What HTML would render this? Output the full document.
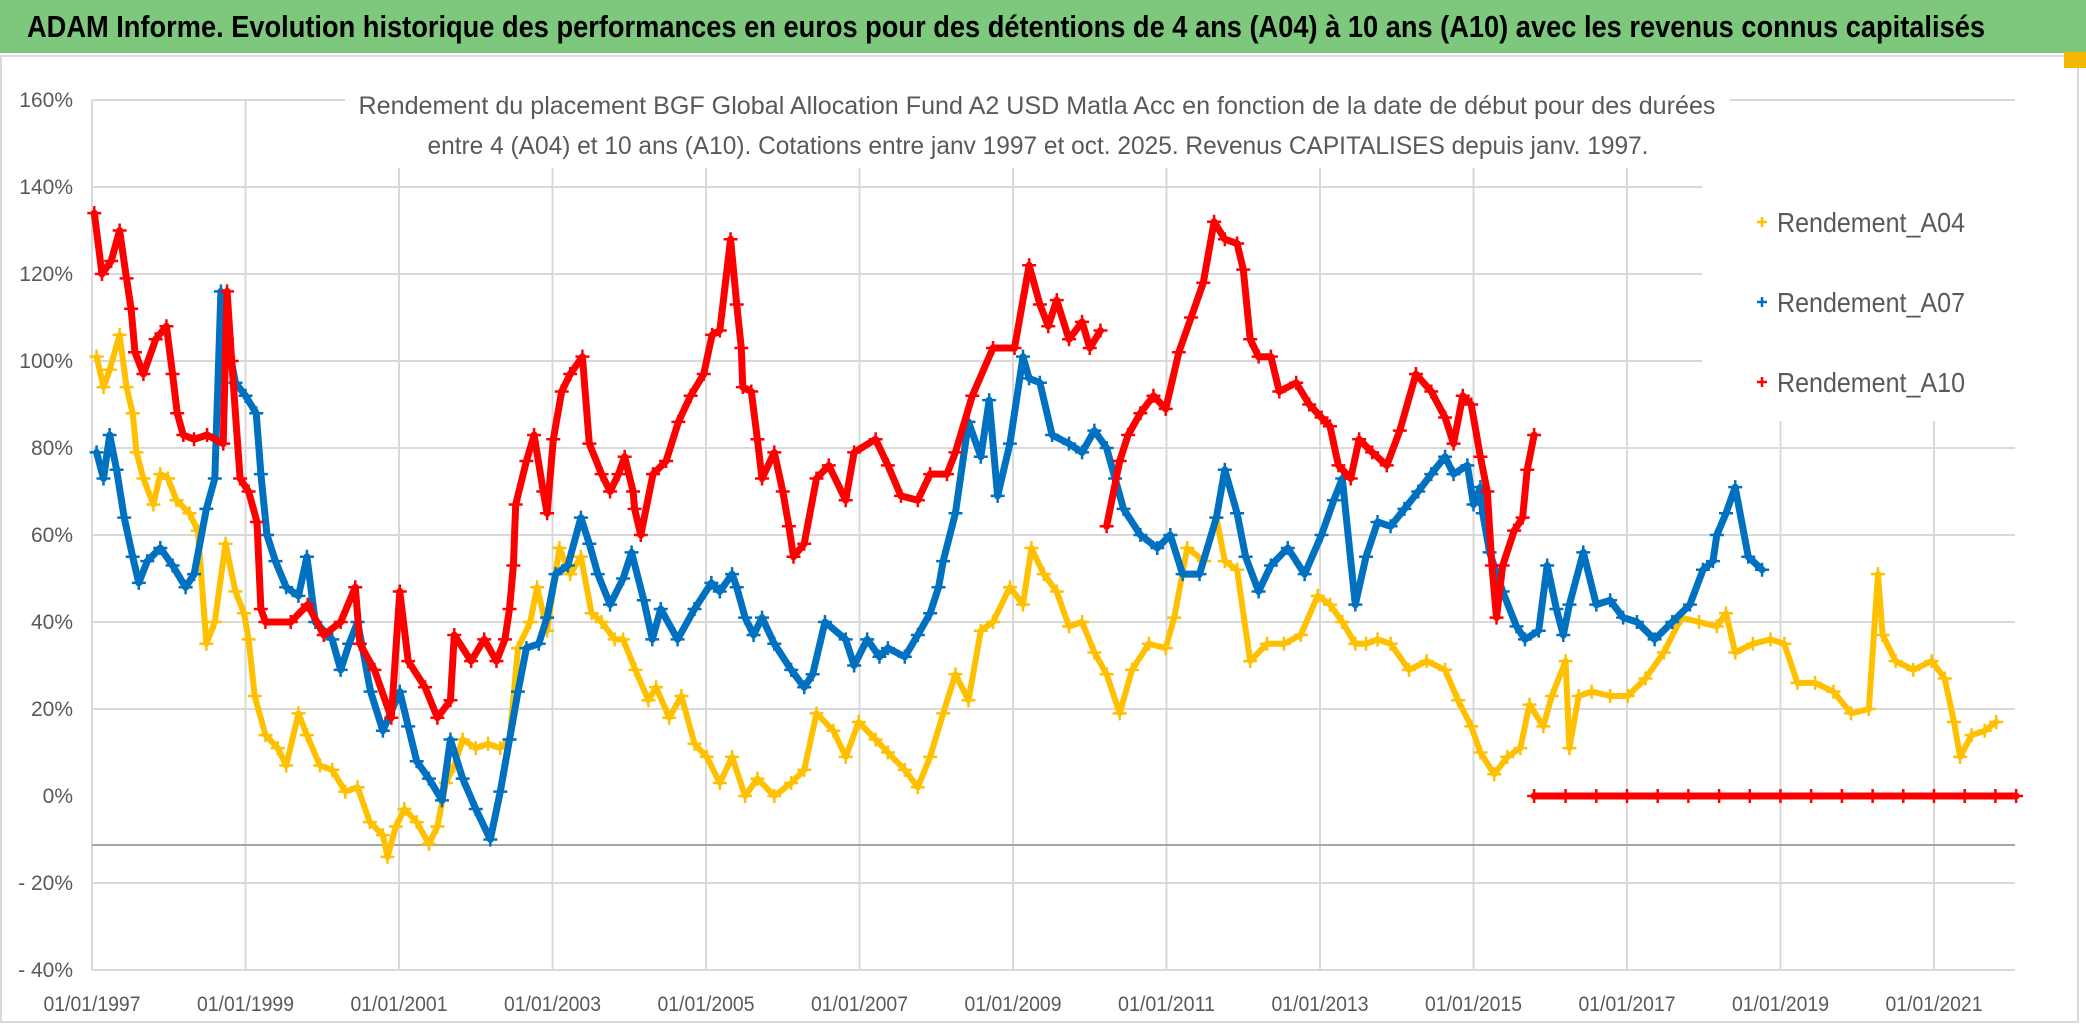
<!DOCTYPE html>
<html><head><meta charset="utf-8"><title>ADAM Informe</title>
<style>
html,body{margin:0;padding:0;background:#fff;}
svg{display:block;font-family:"Liberation Sans",sans-serif;}
</style></head>
<body>
<svg id="chart" width="2086" height="1032" viewBox="0 0 2086 1032" xmlns="http://www.w3.org/2000/svg">
<rect x="0" y="0" width="2086" height="1032" fill="#ffffff"/>
<rect x="0" y="0" width="2086" height="53" fill="#7dc87c"/>
<text x="27" y="37" font-size="31" font-weight="bold" fill="#000" textLength="1958" lengthAdjust="spacingAndGlyphs">ADAM Informe. Evolution historique des performances en euros pour des détentions de 4 ans (A04) à 10 ans (A10) avec les revenus connus capitalisés</text>
<rect x="1" y="56" width="2077" height="966" fill="none" stroke="#d9d9d9" stroke-width="2"/>
<rect x="2064" y="52" width="22" height="16" fill="#f5b800"/>
<g id="grid"></g>
<g id="series"></g>
<rect x="345" y="90" width="1385" height="78" fill="#fff"/>
<text x="1037" y="114" font-size="25" fill="#595959" text-anchor="middle" textLength="1357" lengthAdjust="spacingAndGlyphs">Rendement du placement BGF Global Allocation Fund A2 USD Matla Acc en fonction de la date de début pour des durées</text>
<text x="1038" y="154" font-size="25" fill="#595959" text-anchor="middle" textLength="1221" lengthAdjust="spacingAndGlyphs">entre 4 (A04) et 10 ans (A10). Cotations entre janv 1997 et oct. 2025. Revenus CAPITALISES depuis janv. 1997.</text>
<g id="legend"></g>
<g id="axes"></g>
</svg>
<script>
// ---- data ----
const yTicks = [160, 140, 120, 100, 80, 60, 40, 20, 0, -20, -40];
const yTickLabels = ["160%", "140%", "120%", "100%", "80%", "60%", "40%", "20%", "0%", "- 20%", "- 40%"];
const xTickYears = [1997, 1999, 2001, 2003, 2005, 2007, 2009, 2011, 2013, 2015, 2017, 2019, 2021];
const xTickLabels = ["01/01/1997","01/01/1999","01/01/2001","01/01/2003","01/01/2005","01/01/2007","01/01/2009","01/01/2011","01/01/2013","01/01/2015","01/01/2017","01/01/2019","01/01/2021"];
const seriesNames = ["Rendement_A04", "Rendement_A07", "Rendement_A10"];

const a04Years = [1997.06,1997.15,1997.23,1997.36,1997.45,1997.53,1997.58,1997.67,1997.8,1997.89,1997.99,1998.1,1998.27,1998.38,1998.49,1998.6,1998.74,1998.87,1998.98,1999.04,1999.12,1999.26,1999.42,1999.53,1999.69,1999.8,1999.97,2000.13,2000.3,2000.46,2000.62,2000.79,2000.85,2000.96,2001.07,2001.23,2001.39,2001.5,2001.61,2001.72,2001.83,2002.0,2002.16,2002.32,2002.44,2002.55,2002.71,2002.8,2002.93,2003.09,2003.23,2003.37,2003.51,2003.64,2003.81,2003.92,2004.08,2004.25,2004.35,2004.52,2004.68,2004.85,2005.01,2005.18,2005.34,2005.51,2005.67,2005.89,2006.11,2006.28,2006.44,2006.66,2006.82,2006.99,2007.21,2007.37,2007.59,2007.76,2007.92,2008.09,2008.25,2008.42,2008.58,2008.74,2008.96,2009.13,2009.24,2009.4,2009.57,2009.73,2009.9,2010.06,2010.22,2010.39,2010.55,2010.77,2010.99,2011.1,2011.27,2011.49,2011.65,2011.76,2011.92,2012.09,2012.31,2012.53,2012.75,2012.97,2013.13,2013.29,2013.46,2013.6,2013.75,2013.92,2014.16,2014.39,2014.63,2014.8,2014.97,2015.09,2015.27,2015.44,2015.61,2015.73,2015.91,2016.02,2016.2,2016.25,2016.37,2016.54,2016.78,2017.01,2017.24,2017.48,2017.71,2017.94,2018.17,2018.29,2018.41,2018.64,2018.87,2019.05,2019.22,2019.45,2019.69,2019.92,2020.15,2020.27,2020.33,2020.5,2020.73,2020.97,2021.14,2021.26,2021.34,2021.49,2021.66,2021.81];
const a04Values = [101,94,98,106,94,88,79,73,67,74,73,68,65,61,35,40,58,47,42,36,23,14,11,7,19,14,7,6,1,2,-6,-9,-14,-7,-3,-6,-11,-7,3,7,13,11,12,11,13,34,40,48,38,57,51,55,42,40,36,36,29,22,25,18,23,12,9,3,9,0,4,0,3,6,19,15,9,17,13,10,6,2,9,19,28,22,38,40,48,44,57,51,47,39,40,33,28,19,29,35,34,41,57,54,64,54,52,31,35,35,37,46,44,40,35,35,36,35,29,31,29,22,16,10,5,9,11,21,16,23,31,11,23,24,23,23,27,33,41,40,39,42,33,35,36,35,26,26,24,19,20,51,37,31,29,31,27,17,9,14,15,17];

const a07Years = [1997.06,1997.15,1997.23,1997.32,1997.42,1997.53,1997.61,1997.72,1997.89,1998.05,1998.22,1998.33,1998.49,1998.6,1998.68,1998.76,1998.87,1999.0,1999.14,1999.2,1999.28,1999.39,1999.53,1999.69,1999.8,1999.91,2000.13,2000.24,2000.35,2000.46,2000.63,2000.79,2001.01,2001.12,2001.23,2001.39,2001.56,2001.67,2001.83,2002.0,2002.19,2002.32,2002.44,2002.55,2002.66,2002.82,2002.93,2003.04,2003.2,2003.37,2003.48,2003.59,2003.75,2003.92,2004.03,2004.19,2004.3,2004.41,2004.63,2004.85,2005.07,2005.18,2005.34,2005.4,2005.51,2005.62,2005.73,2005.89,2006.11,2006.28,2006.39,2006.55,2006.82,2006.93,2007.1,2007.26,2007.37,2007.59,2007.76,2007.92,2008.03,2008.09,2008.25,2008.42,2008.58,2008.69,2008.8,2008.96,2009.13,2009.21,2009.35,2009.51,2009.73,2009.9,2010.06,2010.22,2010.33,2010.44,2010.66,2010.88,2011.05,2011.21,2011.43,2011.65,2011.76,2011.92,2012.03,2012.2,2012.36,2012.58,2012.8,2013.02,2013.18,2013.29,2013.46,2013.6,2013.75,2013.92,2014.1,2014.28,2014.45,2014.63,2014.74,2014.92,2015.0,2015.09,2015.12,2015.21,2015.38,2015.56,2015.67,2015.85,2015.96,2016.08,2016.17,2016.25,2016.43,2016.6,2016.78,2016.95,2017.13,2017.36,2017.59,2017.82,2017.99,2018.12,2018.17,2018.29,2018.41,2018.58,2018.76];
const a07Values = [79,73,83,75,64,55,49,54,57,53,48,51,66,73,116,105,95,92,88,74,60,54,48,46,55,40,36,29,35,40,24,15,24,16,8,4,-1,13,4,-3,-10,1,13,24,34,35,41,51,53,64,58,51,44,50,56,45,36,43,36,43,49,47,51,48,41,37,41,35,29,25,28,40,36,30,36,32,34,32,37,42,48,54,65,86,78,91,69,81,101,96,95,83,81,79,84,80,73,66,60,57,60,51,51,64,75,65,55,47,53,57,51,60,68,73,44,55,63,62,66,70,74,78,74,76,67,71,65,56,47,39,36,38,53,43,37,44,56,44,45,41,40,36,40,44,52,54,60,65,71,55,52,54,58];

const a10Years = [1997.03,1997.13,1997.25,1997.36,1997.45,1997.51,1997.56,1997.67,1997.83,1997.97,1998.05,1998.11,1998.19,1998.33,1998.5,1998.71,1998.76,1998.82,1998.93,1999.04,1999.15,1999.2,1999.26,1999.59,1999.81,2000.02,2000.24,2000.43,2000.49,2000.68,2000.9,2001.01,2001.12,2001.34,2001.5,2001.67,2001.72,2001.94,2002.11,2002.27,2002.38,2002.44,2002.49,2002.52,2002.66,2002.76,2002.88,2002.93,2003.01,2003.12,2003.23,2003.39,2003.48,2003.64,2003.75,2003.86,2003.94,2004.05,2004.07,2004.15,2004.31,2004.48,2004.64,2004.8,2004.97,2005.08,2005.18,2005.32,2005.4,2005.46,2005.48,2005.59,2005.67,2005.73,2005.89,2006.0,2006.08,2006.14,2006.28,2006.44,2006.6,2006.82,2006.93,2007.21,2007.37,2007.54,2007.76,2007.92,2008.14,2008.25,2008.47,2008.74,2009.02,2009.21,2009.35,2009.46,2009.57,2009.73,2009.9,2010.0,2010.14,null,2010.22,2010.39,2010.5,2010.66,2010.83,2010.99,2011.16,2011.32,2011.48,2011.62,2011.76,2011.92,2012.0,2012.09,2012.2,2012.36,2012.47,2012.69,2012.86,2013.02,2013.13,2013.24,2013.4,2013.51,2013.68,2013.87,2014.04,2014.25,2014.45,2014.63,2014.74,2014.86,2014.97,2015.09,2015.18,2015.24,2015.3,2015.38,2015.53,2015.64,2015.7,2015.79,null,2015.79,2016.2,2016.6,2017.0,2017.4,2017.8,2018.2,2018.6,2019.0,2019.4,2019.8,2020.2,2020.6,2021.0,2021.4,2021.8,2022.07];
const a10Values = [134,120,123,130,119,112,102,97,105,108,97,88,83,82,83,81,116,100,73,70,63,43,40,40,44,37,40,48,35,29,18,47,31,25,18,22,37,31,36,31,36,43,53,67,77,83,70,65,82,93,97,101,81,74,70,74,78,70,66,60,74,77,86,92,97,106,107,128,113,103,94,93,82,73,79,70,62,55,58,73,76,68,79,82,76,69,68,74,74,79,92,103,103,122,113,108,114,105,109,103,107,null,62,77,83,88,92,89,102,110,118,132,128,127,121,105,101,101,93,95,90,87,85,76,73,82,79,76,84,97,93,87,81,92,90,78,70,53,41,53,61,64,75,83,null,0,0,0,0,0,0,0,0,0,0,0,0,0,0,0,0,0];

// ---- axes ----
const X0 = 92, PXY = 76.75, Y0 = 796, PXV = 4.35;
const xs = yr => X0 + (yr - 1997) * PXY;
const ys = v => Y0 - v * PXV;
const NS = "http://www.w3.org/2000/svg";
function mk(tag, parent) { const e = document.createElementNS(NS, tag); parent.appendChild(e); return e; }

const grid = document.getElementById('grid');
const axes = document.getElementById('axes');
const plotRight = 2015;
yTicks.forEach((v, i) => {
  if (v !== 0) {
    const l = mk('line', grid);
    
    
    const right = (v >= 100 && v <= 140) ? 1702 : plotRight;
    l.setAttribute('x1', X0); l.setAttribute('x2', right);
    l.setAttribute('y1', ys(v)); l.setAttribute('y2', ys(v));
    l.setAttribute('stroke', '#d9d9d9'); l.setAttribute('stroke-width', '2');
  }
  const t = mk('text', axes);
  
  
  t.setAttribute('x', 73); t.setAttribute('y', ys(v) + 7);
  t.setAttribute('text-anchor', 'end'); t.setAttribute('font-size', '21');
  t.setAttribute('fill', '#595959');
  t.textContent = yTickLabels[i];
});
xTickYears.forEach((yr, i) => {
  const x = xs(yr);
  if (i > 0) {
    const l = mk('line', grid);
    
    
    const top = (x > 1702) ? 421 : ys(160);
    l.setAttribute('x1', x); l.setAttribute('x2', x);
    l.setAttribute('y1', top); l.setAttribute('y2', ys(-40));
    l.setAttribute('stroke', '#d9d9d9'); l.setAttribute('stroke-width', '2');
  }
  const t = mk('text', axes);
  
  
  t.setAttribute('x', x); t.setAttribute('y', 1011);
  t.setAttribute('text-anchor', 'middle'); t.setAttribute('font-size', '21');
  t.setAttribute('textLength', '97'); t.setAttribute('lengthAdjust', 'spacingAndGlyphs');
  t.setAttribute('fill', '#595959');
  t.textContent = xTickLabels[i];
});
const yAxis = mk('line', grid);


yAxis.setAttribute('x1', X0); yAxis.setAttribute('x2', X0);
yAxis.setAttribute('y1', ys(160)); yAxis.setAttribute('y2', ys(-40));
yAxis.setAttribute('stroke', '#d9d9d9'); yAxis.setAttribute('stroke-width', '2');
const xAxis = mk('line', grid);


xAxis.setAttribute('x1', X0); xAxis.setAttribute('x2', plotRight);
xAxis.setAttribute('y1', 845); xAxis.setAttribute('y2', 845);
xAxis.setAttribute('stroke', '#a6a6a6'); xAxis.setAttribute('stroke-width', '2');

// ---- series ----
const seriesLayer = document.getElementById('series');
const colors = ['#ffc000', '#0070c0', '#ff0000'];
const allYears = [a04Years, a07Years, a10Years];
const allValues = [a04Values, a07Values, a10Values];
[0, 1, 2].forEach(s => {
  const g = mk('g', seriesLayer);
  
  
  const yrs = allYears[s], vals = allValues[s];
  let segs = [[]];
  for (let i = 0; i < yrs.length; i++) {
    if (yrs[i] === null || vals[i] === null) { segs.push([]); continue; }
    segs[segs.length - 1].push(xs(yrs[i]).toFixed(1) + ',' + ys(vals[i]).toFixed(1));
  }
  segs.forEach(pts => {
    if (pts.length < 2) return;
    const pl = mk('polyline', g);
    
    
    pl.setAttribute('points', pts.join(' '));
    pl.setAttribute('fill', 'none');
    pl.setAttribute('stroke', colors[s]);
    pl.setAttribute('stroke-width', s === 0 ? '6' : '7');
    pl.setAttribute('stroke-linejoin', 'round');
    pl.setAttribute('stroke-linecap', 'round');
  });
  for (let i = 0; i < yrs.length; i++) {
    if (yrs[i] === null || vals[i] === null) continue;
    const x = xs(yrs[i]), y = ys(vals[i]);
    const p = mk('path', g);
    
    
    p.setAttribute('d', `M${x-7},${y}H${x+7}M${x},${y-7}V${y+7}`);
    p.setAttribute('stroke', colors[s]); p.setAttribute('stroke-width', '2.5');
  }
});

// ---- legend ----
const legend = document.getElementById('legend');
const lbg = mk('rect', legend);


lbg.setAttribute('x', 1703); lbg.setAttribute('y', 170); lbg.setAttribute('width', 311); lbg.setAttribute('height', 250);
lbg.setAttribute('fill', '#fff');
seriesNames.forEach((n, i) => {
  const y = 222 + i * 80;
  const m = mk('path', legend);
  
  
  m.setAttribute('d', `M1757,${y}H1767M1762,${y-5}V${y+5}`);
  m.setAttribute('stroke', colors[i]); m.setAttribute('stroke-width', '2.5');
  const t = mk('text', legend);
  
  
  t.setAttribute('x', 1777); t.setAttribute('y', y + 10);
  t.setAttribute('font-size', '28'); t.setAttribute('fill', '#595959');
  t.setAttribute('textLength', '188'); t.setAttribute('lengthAdjust', 'spacingAndGlyphs');
  t.textContent = n;
});
</script>
</body></html>
